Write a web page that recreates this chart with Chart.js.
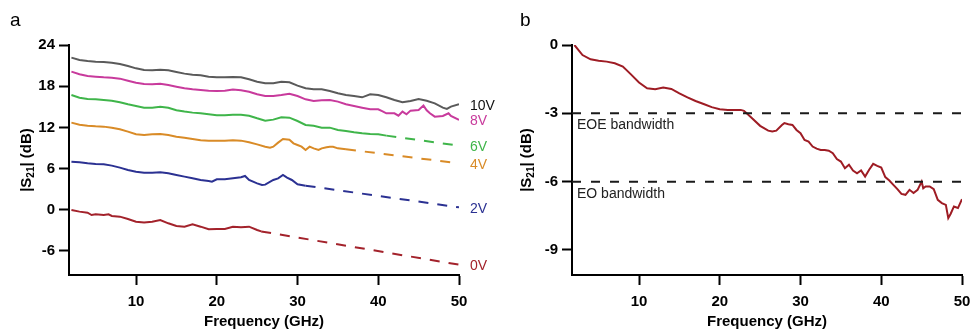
<!DOCTYPE html>
<html>
<head>
<meta charset="utf-8">
<script src="https://cdn.jsdelivr.net/npm/chart.js@4.4.1/dist/chart.umd.min.js"></script>
<style>
  html, body { margin: 0; padding: 0; background: #fff; }
  #wrap { position: relative; width: 970px; height: 329px; overflow: hidden; }
  canvas { position: absolute; top: 0; }
  #chartA { left: 0; }
  #chartB { left: 500px; }
</style>
</head>
<body>
<div id="wrap">
  <canvas id="chartA" width="500" height="329"></canvas>
  <canvas id="chartB" width="490" height="329"></canvas>
</div>
<script>
// axis ranges and ticks
const freqMin = 1.7, freqMax = 50;
const xTicks = [10, 20, 30, 40, 50];
const yTicksA = [-6, 0, 6, 12, 18, 24];
const yTicksB = [-9, -6, -3, 0];
const yRangeA = [-9.5, 24];
const yRangeB = [-10.1, 0];

// panel a: measured |S21| per bias, [GHz, dB]
const voltLabels = ['10V', '8V', '6V', '4V', '2V', '0V'];

const trace10V = [[2,22.16],[3,21.82],[4,21.67],[5,21.57],[6,21.52],[7,21.43],[8,21.23],[9,20.94],[10,20.6],
  [11,20.36],[12,20.31],[13,20.4],[14,20.31],[15,20.07],[16,19.83],[17,19.68],[18,19.58],[19,19.39],[20,19.29],
  [21,19.29],[22,19.34],[23,19.29],[24,19.0],[25,18.66],[26,18.42],[27,18.42],[28,18.66],[29,18.56],[30,18.08],
  [31,17.69],[32,17.54],[33,17.54],[34,17.3],[35,16.96],[36,16.72],[37,16.57],[38,16.38],[39,16.82],[40,16.72],
  [41,16.38],[42,15.99],[43,15.65],[44,15.84],[45,16.14],[46,15.89],[47,15.5],[48,14.87],[48.5,14.68],[49,15.02],[50,15.36]];

const trace8V = [[2,20.12],[3,19.73],[4,19.49],[5,19.39],[6,19.29],[7,19.24],[8,19.1],[9,18.8],[10,18.51],
  [11,18.32],[12,18.27],[13,18.37],[14,18.17],[15,17.93],[16,17.69],[17,17.54],[18,17.45],[19,17.35],[20,17.3],
  [21,17.35],[22,17.5],[23,17.4],[24,17.2],[25,16.82],[26,16.57],[27,16.57],[28,16.72],[29,16.91],[30,16.57],
  [31,16.09],[32,15.84],[33,15.94],[34,15.99],[35,15.75],[36,15.36],[37,15.12],[38,14.87],[39,14.63],[40,14.63],
  [40.6,14.3],[41,14.05],[42,14.05],[42.5,13.7],[43,14.3],[43.5,13.9],[44,14.44],[45,14.53],[45.6,15.17],[46,14.49],
  [46.4,14.05],[47,13.56],[48,13.66],[48.7,14.05],[49,13.66],[50,13.08]];

const trace6V = [[2,16.72],[3,16.33],[4,16.14],[5,16.09],[6,15.99],[7,15.89],[8,15.65],[9,15.36],[10,15.12],
  [11,14.87],[12,14.87],[13,15.02],[14,14.87],[15,14.49],[16,14.3],[17,14.15],[18,14.05],[19,13.9],[20,13.76],
  [21,13.76],[22,13.85],[23,13.85],[24,13.7],[25,13.32],[26,12.98],[27,13.13],[28,13.47],[29,13.42],[30,12.93],
  [31,12.35],[32,12.25],[33,11.96],[34,11.96],[35,11.62],[36,11.48],[37,11.28],[38,11.14],[39,11.04],[40,10.99],[41,10.8]];

const trace4V = [[2,12.69],[3,12.4],[4,12.25],[5,12.16],[6,12.11],[7,11.96],[8,11.72],[9,11.38],[10,10.99],
  [11,10.89],[12,10.99],[13,11.04],[14,10.89],[15,10.65],[16,10.5],[17,10.31],[18,10.12],[19,10.07],[20,10.07],
  [21,10.07],[22,10.12],[23,10.07],[24,9.83],[25,9.53],[26,9.19],[26.6,9.05],[27,9.19],[27.6,9.78],[28.2,10.31],
  [29,10.21],[29.5,9.68],[30,9.44],[30.5,9.19],[31,8.71],[31.5,9.19],[32,8.95],[32.6,8.71],[33,8.95],[33.6,9.1],
  [34,9.19],[34.4,9.19],[35,8.95],[36,8.81]];

const trace2V = [[2,7.01],[3,6.91],[4,6.77],[5,6.67],[6,6.62],[7,6.43],[8,6.14],[9,5.8],[10,5.55],
  [11,5.41],[12,5.41],[13,5.46],[14,5.31],[15,5.07],[16,4.83],[17,4.58],[18,4.34],[19,4.19],[19.4,4.1],[20,4.44],
  [21,4.44],[22,4.58],[23,4.73],[23.5,4.92],[24,4.34],[25,3.85],[25.6,3.61],[26,3.66],[27,4.34],[27.6,4.58],
  [28.2,5.07],[28.7,4.68],[29.3,4.34],[30,3.71],[31,3.51]];

const trace0V = [[2,-0.03],[3,-0.27],[4,-0.42],[4.5,-0.76],[5,-0.66],[6,-0.76],[6.6,-0.66],[7,-0.9],[8,-1.0],
  [9,-1.34],[10,-1.73],[11,-1.87],[12,-1.73],[13,-1.49],[14,-1.97],[15,-2.36],[16,-2.46],[17,-2.12],[18,-2.46],
  [19,-2.84],[20,-2.8],[21,-2.8],[22,-2.46],[23,-2.55],[24,-2.46],[25,-2.94],[25.5,-3.15]];

// extrapolated (dashed) parts, [GHz, dB]
const fit6V = [[41, 10.8], [50, 9.34]];
const fit4V = [[36, 8.81], [50, 6.77]];
const fit2V = [[31, 3.51], [50, 0.36]];
const fit0V = [[25.5, -3.15], [50, -8.0]];

// panel b: EO response, [GHz, dB]
const traceEO = [[2,0],[3,-0.44],[4,-0.63],[5,-0.69],[6,-0.73],[7,-0.8],[8,-0.95],[9,-1.29],[10,-1.65],
  [11,-1.9],[12,-1.94],[13,-1.87],[14,-1.93],[15,-2.12],[16,-2.3],[17,-2.46],[18,-2.59],[19,-2.73],[20,-2.82],
  [21,-2.85],[22,-2.85],[22.6,-2.85],[23,-2.89],[24,-3.22],[25,-3.55],[26,-3.76],[26.5,-3.8],[27,-3.76],
  [27.7,-3.51],[28,-3.43],[28.5,-3.48],[29,-3.51],[29.5,-3.73],[30,-3.87],[30.5,-4.17],[31,-4.24],[31.5,-4.46],
  [32,-4.55],[32.5,-4.61],[33,-4.61],[33.5,-4.64],[34,-4.75],[34.5,-5.01],[35,-5.12],[35.5,-5.41],[36,-5.26],
  [36.5,-5.51],[37,-5.63],[37.5,-5.51],[38,-5.78],[38.5,-5.48],[39,-5.22],[39.5,-5.31],[40,-5.38],[40.5,-5.8],
  [41,-5.95],[41.5,-6.14],[42,-6.33],[42.5,-6.54],[43,-6.58],[43.5,-6.36],[44,-6.5],[44.5,-6.36],[45,-6.0],
  [45.2,-6.29],[45.5,-6.21],[46,-6.21],[46.5,-6.33],[47,-6.8],[47.5,-6.94],[48,-7.02],[48.3,-7.6],[48.6,-7.41],
  [49,-7.09],[49.5,-7.16],[50,-6.77]];

const bandLevels = [-3, -6];
const bandLabels = ['EOE bandwidth', 'EO bandwidth'];

// styling
const FONT = '"Liberation Sans", Arial, Helvetica, sans-serif';
const voltColors = ['#5a5a5a', '#c83a9c', '#3fb54a', '#d98b27', '#2b3192', '#a3222b'];
const voltTextColors = ['#111111', '#c83a9c', '#3fb54a', '#d98b27', '#2b3192', '#a3222b'];
const eoColor = '#9e1c24';

const toXY = arr => arr.map(p => ({x: p[0], y: p[1]}));

function scaleOpts(min, max, ticks, fitSize, pad) {
  return {
    type: 'linear',
    min: min,
    max: max,
    afterBuildTicks: axis => { axis.ticks = ticks.map(v => ({value: v})); },
    afterFit: fitSize,
    border: {display: true, color: '#000', width: 2},
    grid: {display: true, drawOnChartArea: false, drawTicks: true, tickLength: 10, tickWidth: 2, tickColor: '#000'},
    ticks: {color: '#000', padding: pad, font: {family: FONT, size: 15, weight: 'bold'}, callback: v => String(v)}
  };
}

function drawYTitle(ctx, cx, cy) {
  const big = 'bold 15px ' + FONT;
  const small = 'bold 10px ' + FONT;
  const parts = [['|S', big, 0], ['21', small, 3], ['| (dB)', big, 0]];
  ctx.save();
  ctx.translate(cx, cy);
  ctx.rotate(-Math.PI / 2);
  ctx.textAlign = 'left';
  ctx.textBaseline = 'alphabetic';
  ctx.fillStyle = '#000';
  let w = 0;
  parts.forEach(p => { ctx.font = p[1]; w += ctx.measureText(p[0]).width; });
  let x = -w / 2;
  parts.forEach(p => {
    ctx.font = p[1];
    ctx.fillText(p[0], x, 5.5 + p[2]);
    x += ctx.measureText(p[0]).width;
  });
  ctx.restore();
}

const textPlugin = {
  id: 'panelText',
  afterDraw(chart) {
    const ctx = chart.ctx;
    const area = chart.chartArea;
    const xs = chart.scales.x, ys = chart.scales.y;
    const isA = chart.canvas.id === 'chartA';
    ctx.save();
    ctx.fillStyle = '#000';
    ctx.font = '19px ' + FONT;
    ctx.textAlign = 'left';
    ctx.textBaseline = 'alphabetic';
    ctx.fillText(isA ? 'a' : 'b', isA ? 10 : 20, 26);

    ctx.font = 'bold 15px ' + FONT;
    ctx.textAlign = 'center';
    ctx.fillText('Frequency (GHz)', (area.left + area.right) / 2, 325.5);
    drawYTitle(ctx, 25, (area.top + area.bottom) / 2);

    if (isA) {
      const ends = [trace10V, trace8V, fit6V, fit4V, fit2V, fit0V];
      ctx.font = '14px ' + FONT;
      ctx.textAlign = 'left';
      ctx.textBaseline = 'middle';
      voltLabels.forEach((lab, i) => {
        const last = ends[i][ends[i].length - 1];
        ctx.fillStyle = voltTextColors[i];
        ctx.fillText(lab, xs.getPixelForValue(freqMax) + 11, ys.getPixelForValue(last[1]) + 1.5);
      });
    } else {
      ctx.font = '14px ' + FONT;
      ctx.fillStyle = '#222';
      ctx.textAlign = 'left';
      ctx.textBaseline = 'alphabetic';
      bandLevels.forEach((lv, i) => {
        ctx.fillText(bandLabels[i], area.left + 5, ys.getPixelForValue(lv) + 16);
      });
    }
    ctx.restore();
  }
};

// panel a datasets
const tracesA = [trace10V, trace8V, trace6V, trace4V, trace2V, trace0V];
const fitsA = [null, null, fit6V, fit4V, fit2V, fit0V];
const dsA = [];
tracesA.forEach((t, i) => {
  dsA.push({data: toXY(t), borderColor: voltColors[i], borderWidth: 2, pointRadius: 0, tension: 0});
  if (fitsA[i]) {
    dsA.push({data: toXY(fitsA[i]), borderColor: voltColors[i], borderWidth: 2, borderDash: [10, 9], pointRadius: 0});
  }
});

new Chart(document.getElementById('chartA'), {
  type: 'line',
  data: {datasets: dsA},
  options: {
    responsive: false,
    animation: false,
    layout: {padding: {top: 45, right: 41, left: 0, bottom: 0}},
    plugins: {legend: {display: false}, tooltip: {enabled: false}},
    scales: {
      x: scaleOpts(freqMin, freqMax, xTicks, s => { s.height = 54; }, 8),
      y: scaleOpts(yRangeA[0], yRangeA[1], yTicksA, s => { s.width = 69; }, 4)
    }
  },
  plugins: [textPlugin]
});

// panel b datasets
const dsB = bandLevels.map(lv => ({
  data: [{x: freqMin, y: lv}, {x: freqMax, y: lv}],
  borderColor: '#1a1a1a', borderWidth: 2, borderDash: [9, 10], pointRadius: 0
}));
dsB.push({data: toXY(traceEO), borderColor: eoColor, borderWidth: 2, pointRadius: 0, tension: 0});

new Chart(document.getElementById('chartB'), {
  type: 'line',
  data: {datasets: dsB},
  options: {
    responsive: false,
    animation: false,
    layout: {padding: {top: 45, right: 28, left: 0, bottom: 0}},
    plugins: {legend: {display: false}, tooltip: {enabled: false}},
    scales: {
      x: scaleOpts(freqMin, freqMax, xTicks, s => { s.height = 54; }, 8),
      y: scaleOpts(yRangeB[0], yRangeB[1], yTicksB, s => { s.width = 72; }, 4)
    }
  },
  plugins: [textPlugin]
});
</script>
</body>
</html>
